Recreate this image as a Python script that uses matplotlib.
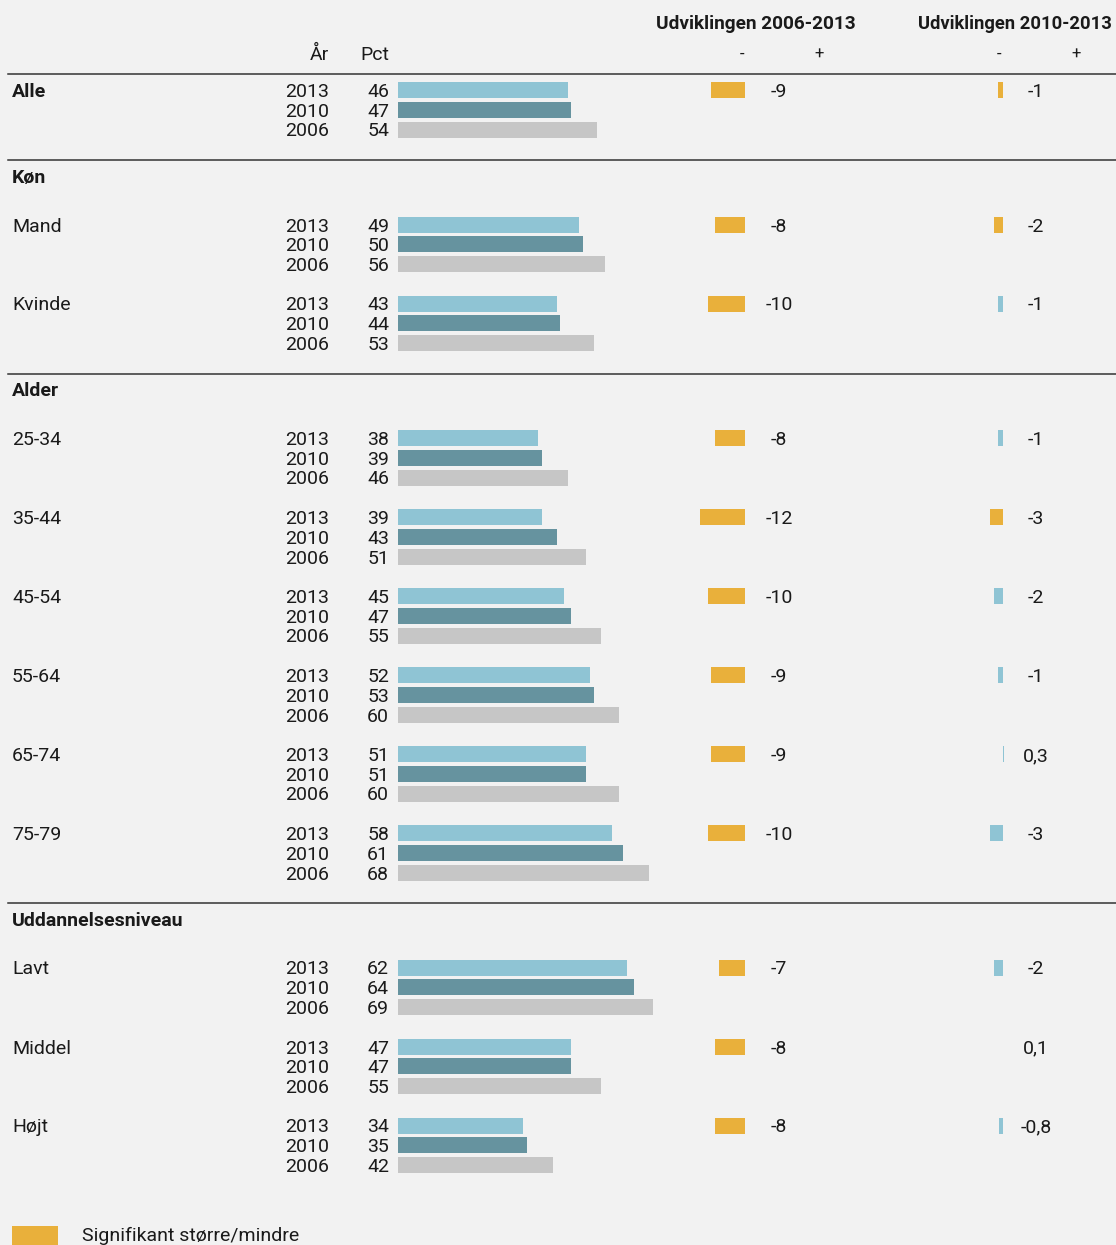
import matplotlib.pyplot as plt
from matplotlib.patches import Rectangle

plt.rcParams['font.family'] = ['Roboto', 'DejaVu Sans']

# Data
groups = ['Alle', 'Mand', 'Kvinde', '25-34', '35-44', '45-54', '55-64',
          '65-74', '75-79', 'Lavt', 'Middel', 'Højt']
years = ['2013', '2010', '2006']
pct_2013 = [46, 49, 43, 38, 39, 45, 52, 51, 58, 62, 47, 34]
pct_2010 = [47, 50, 44, 39, 43, 47, 53, 51, 61, 64, 47, 35]
pct_2006 = [54, 56, 53, 46, 51, 55, 60, 60, 68, 69, 55, 42]
chg_0613 = [-9, -8, -10, -8, -12, -10, -9, -9, -10, -7, -8, -8]
sig_0613 = [True] * 12
chg_1013 = [-1, -2, -1, -1, -3, -2, -1, 0.3, -3, -2, 0.1, -0.8]
sig_1013 = [True, True, False, False, True, False, False, False, False,
            False, False, False]
# sektion -> indeks i groups (Alle har ingen overskrift)
sections = [(None, [0]), ('Køn', [1, 2]), ('Alder', [3, 4, 5, 6, 7, 8]),
            ('Uddannelsesniveau', [9, 10, 11])]

# Farver
BG = '#f2f2f2'
TXT = '#1a1a1a'
C13 = '#8fc4d4'
C10 = '#66939f'
C06 = '#c6c6c6'
SIG = '#e9b03b'
year_colors = [C13, C10, C06]

W, H = 1116, 1245
fig = plt.figure(figsize=(W / 100, H / 100), dpi=100, facecolor=BG)

ax = fig.add_axes([0, 0, 1, 1])
ax.set_xlim(0, W)
ax.set_ylim(H, 0)
ax.axis('off')
ax.set_facecolor(BG)


def bar_axes(zero_px, px_per_unit, lo, hi):
    a = fig.add_axes([(zero_px + lo * px_per_unit) / W, 0,
                      (hi - lo) * px_per_unit / W, 1])
    a.set_xlim(lo, hi)
    a.set_ylim(H, 0)
    a.axis('off')
    a.patch.set_alpha(0)
    return a


ax_main = bar_axes(398, 3.69, 0, 75)
ax_c1 = bar_axes(745, 3.75, -15, 15)
ax_c2 = bar_axes(1002.5, 4.2, -5, 5)


def fmt(v):
    if float(v).is_integer():
        return f'{int(v)}'
    return f'{v}'.replace('.', ',')


fs = 14
dy = 7  # baseline under midten af rækken


def txt(x, y, s, ha='left', bold=False, size=fs):
    ax.text(x, y + dy, s, ha=ha, va='baseline', fontsize=size, color=TXT,
            fontweight='bold' if bold else 'normal')


# Overskrifter
txt(756, 22, 'Udviklingen 2006-2013', ha='center', bold=True, size=13.7)
txt(1112, 22, 'Udviklingen 2010-2013', ha='right', bold=True, size=13.2)
txt(329, 53, 'År', ha='right')
txt(389, 53, 'Pct', ha='right')
for xm, xp in [(742, 819), (999, 1076)]:
    txt(xm, 52, '-', ha='center', size=12)
    txt(xp, 52, '+', ha='center', size=12)

row_step = 19.75
bar_h = 16
line_y = 74
for title, idx in sections:
    ax.plot([8, W], [line_y, line_y], color='#333333', lw=1.1)
    if title is None:
        first = line_y + 16
    else:
        txt(12, line_y + 15.5, title, bold=True)
        first = line_y + 15.5 + 49
    for k, i in enumerate(idx):
        y0 = first + k * 79
        txt(12, y0, groups[i], bold=title is None)
        vals = [pct_2013[i], pct_2010[i], pct_2006[i]]
        for r in range(3):
            yr = y0 + r * row_step
            txt(329, yr, years[r], ha='right')
            txt(389, yr, fmt(vals[r]), ha='right')
            ax_main.barh(yr, vals[r], height=bar_h, color=year_colors[r],
                         edgecolor='none')
        ax_c1.barh(y0, chg_0613[i], height=bar_h,
                   color=SIG if sig_0613[i] else C13, edgecolor='none')
        txt(779, y0, fmt(chg_0613[i]), ha='center')
        ax_c2.barh(y0, chg_1013[i], height=bar_h,
                   color=SIG if sig_1013[i] else C13, edgecolor='none')
        txt(1036, y0, fmt(chg_1013[i]), ha='center')
    line_y = first + (len(idx) - 1) * 79 + 70

# Forklaring
ax.add_patch(Rectangle((12, 1226), 46, 20, color=SIG, lw=0))
txt(82, 1234, 'Signifikant større/mindre')

fig.savefig('out.png', dpi=100, facecolor=BG)
